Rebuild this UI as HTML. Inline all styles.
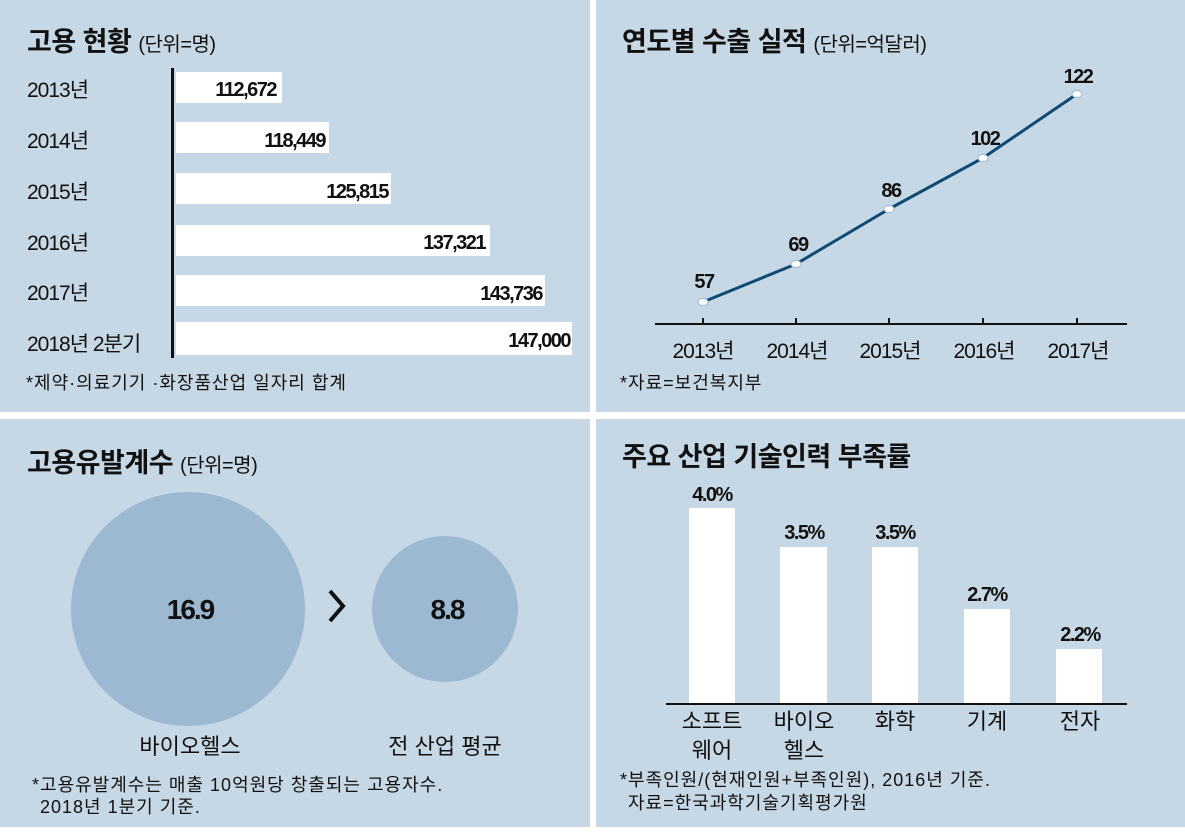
<!DOCTYPE html>
<html><head><meta charset="utf-8"><style>
body{margin:0;background:#fff;width:1185px;height:831px;overflow:hidden}
text{font-family:"Liberation Sans","Noto Sans CJK KR",sans-serif;fill:#111}
.t{font-weight:bold;font-size:27px;letter-spacing:-0.5px}
.u{font-size:20px}
.l{font-size:21px;letter-spacing:-1px}
.v{font-size:20px;font-weight:bold;letter-spacing:-1.5px}
.n{font-size:18px;letter-spacing:1px}
.c{font-size:22px}
</style></head><body>
<svg width="1185" height="831" viewBox="0 0 1185 831" xmlns="http://www.w3.org/2000/svg">
<rect x="0" y="0" width="590" height="412" fill="#c6d8e6"/>
<rect x="596" y="0" width="589" height="412" fill="#c6d8e6"/>
<rect x="0" y="419" width="590" height="408" fill="#c6d8e6"/>
<rect x="596" y="419" width="589" height="408" fill="#c6d8e6"/>

<!-- TL -->
<text x="27" y="51" class="t">고용 현황 <tspan class="u" font-weight="normal">(단위=명)</tspan></text>
<g fill="#fff">
<rect x="176" y="72" width="106" height="31"/>
<rect x="176" y="122" width="153" height="31"/>
<rect x="176" y="173" width="215" height="31"/>
<rect x="176" y="225" width="314" height="31"/>
<rect x="176" y="275" width="369" height="31"/>
<rect x="176" y="322" width="396" height="33"/>
</g>
<rect x="171" y="68" width="3" height="290" fill="#111"/>
<text x="27" y="97" class="l">2013년</text><text x="27" y="148" class="l">2014년</text><text x="27" y="199" class="l">2015년</text><text x="27" y="250" class="l">2016년</text><text x="27" y="300" class="l">2017년</text><text x="27" y="351" class="l">2018년 2분기</text>
<g text-anchor="end"><text x="276" y="96" class="v">112,672</text><text x="325" y="147" class="v">118,449</text><text x="388" y="198" class="v">125,815</text><text x="485" y="249" class="v">137,321</text><text x="542" y="300" class="v">143,736</text><text x="570" y="347" class="v">147,000</text></g>
<text x="26" y="389" class="n">*제약·의료기기 ·화장품산업 일자리 합계</text>

<!-- TR -->
<text x="622" y="51" class="t">연도별 수출 실적 <tspan class="u" font-weight="normal">(단위=억달러)</tspan></text>
<line x1="655" y1="324" x2="1127" y2="324" stroke="#111" stroke-width="2"/>
<g stroke="#111" stroke-width="2"><line x1="703" y1="318" x2="703" y2="324"/><line x1="796" y1="318" x2="796" y2="324"/><line x1="889" y1="318" x2="889" y2="324"/><line x1="983" y1="318" x2="983" y2="324"/><line x1="1077" y1="318" x2="1077" y2="324"/></g>
<polyline points="703,302 796,264 889,209 983,158 1077,94" fill="none" stroke="#0f4a74" stroke-width="3"/>
<g fill="#fff" stroke="#9db9d1"><ellipse cx="703" cy="302" rx="5" ry="3.5"/><ellipse cx="796" cy="264" rx="5" ry="3.5"/><ellipse cx="889" cy="209" rx="5" ry="3.5"/><ellipse cx="983" cy="158" rx="5" ry="3.5"/><ellipse cx="1077" cy="94" rx="5" ry="3.5"/></g>
<g text-anchor="middle"><text x="704" y="288" class="v">57</text><text x="798" y="251" class="v">69</text><text x="891" y="197" class="v">86</text><text x="985" y="145" class="v">102</text><text x="1078" y="83" class="v">122</text></g>
<g text-anchor="middle"><text x="703" y="358" class="l">2013년</text><text x="797" y="358" class="l">2014년</text><text x="890" y="358" class="l">2015년</text><text x="984" y="358" class="l">2016년</text><text x="1078" y="358" class="l">2017년</text></g>
<text x="620" y="389" class="n">*자료=보건복지부</text>

<!-- BL -->
<text x="27" y="472" class="t">고용유발계수 <tspan class="u" font-weight="normal">(단위=명)</tspan></text>
<circle cx="188" cy="609" r="117" fill="#9db9d1"/>
<circle cx="445" cy="609" r="73" fill="#9db9d1"/>
<path d="M330 591 L343 606 L330 621" fill="none" stroke="#111" stroke-width="4"/>
<text x="190" y="619" text-anchor="middle" style="font-size:28px;font-weight:bold;letter-spacing:-2px">16.9</text>
<text x="447" y="619" text-anchor="middle" style="font-size:28px;font-weight:bold;letter-spacing:-2px">8.8</text>
<text x="190" y="754" text-anchor="middle" class="c">바이오헬스</text>
<text x="445" y="754" text-anchor="middle" class="c">전 산업 평균</text>
<text x="32" y="791" class="n">*고용유발계수는 매출 10억원당 창출되는 고용자수.</text>
<text x="40" y="813" class="n">2018년 1분기 기준.</text>

<!-- BR -->
<text x="622" y="466" class="t">주요 산업 기술인력 부족률</text>
<g fill="#fff">
<rect x="689" y="508" width="46" height="196"/>
<rect x="780" y="547" width="47" height="157"/>
<rect x="872" y="547" width="46" height="157"/>
<rect x="964" y="609" width="46" height="95"/>
<rect x="1056" y="649" width="46" height="55"/>
</g>
<line x1="666" y1="704" x2="1127" y2="704" stroke="#111" stroke-width="2"/>
<g text-anchor="middle"><text x="712" y="501" class="v">4.0%</text><text x="804" y="539" class="v">3.5%</text><text x="895" y="539" class="v">3.5%</text><text x="987" y="601" class="v">2.7%</text><text x="1080" y="641" class="v">2.2%</text></g>
<g text-anchor="middle"><text x="712" y="729" class="c">소프트</text><text x="712" y="758" class="c">웨어</text><text x="804" y="729" class="c">바이오</text><text x="804" y="758" class="c">헬스</text><text x="895" y="729" class="c">화학</text><text x="987" y="729" class="c">기계</text><text x="1080" y="729" class="c">전자</text></g>
<text x="620" y="786" class="n">*부족인원/(현재인원+부족인원), 2016년 기준.</text>
<text x="628" y="809" class="n">자료=한국과학기술기획평가원</text>
</svg>
</body></html>
